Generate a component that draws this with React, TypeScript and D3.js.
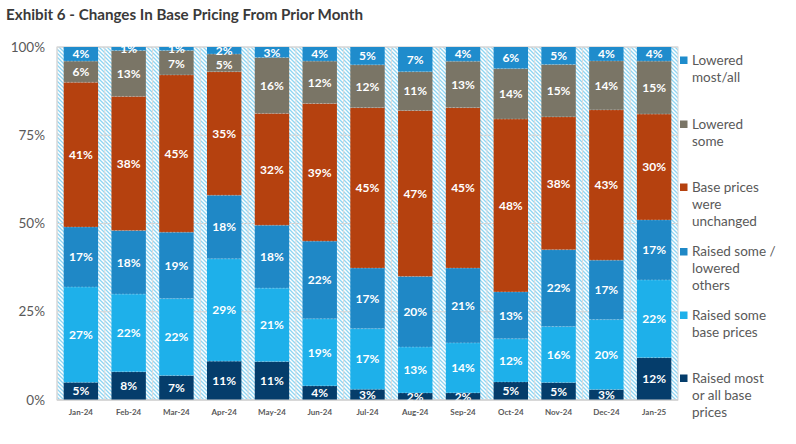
import React from "react";
import * as d3 from "d3";

const months = ["Jan-24","Feb-24","Mar-24","Apr-24","May-24","Jun-24","Jul-24","Aug-24","Sep-24","Oct-24","Nov-24","Dec-24","Jan-25"];
const raisedMost = [5,8,7,11,11,4,3,2,2,5,5,3,12];
const raisedSome = [27,22,22,29,21,19,17,13,14,12,16,20,22];
const raisedLowered = [17,18,19,18,18,22,17,20,21,13,22,17,17];
const unchanged = [41,38,45,35,32,39,45,47,45,48,38,43,30];
const loweredSome = [6,13,7,5,16,12,12,11,13,14,15,14,15];
const loweredMost = [4,1,1,2,3,4,5,7,4,6,5,4,4];
const yTicks = [0,25,50,75,100];

const seriesKeys = ["raisedMost","raisedSome","raisedLowered","unchanged","loweredSome","loweredMost"];
const seriesColors = ["#053d6b","#1eb0ea","#1f88c6","#b5410f","#7a7566","#1f8ccc"];
const legendLines: string[][] = [
  ["Raised most","or all base","prices"],
  ["Raised some","base prices"],
  ["Raised some /","lowered","others"],
  ["Base prices","were","unchanged"],
  ["Lowered","some"],
  ["Lowered","most/all"],
];
const legendY = [378, 315, 251.5, 187, 124, 60];

export default function App() {
  const W = 796, H = 444;
  const left = 57, right = 678, top = 47, bottom = 400;
  const table = months.map((m, i) => ({
    month: m,
    raisedMost: raisedMost[i], raisedSome: raisedSome[i], raisedLowered: raisedLowered[i],
    unchanged: unchanged[i], loweredSome: loweredSome[i], loweredMost: loweredMost[i],
  }));
  const stack = d3.stack<any>().keys(seriesKeys).offset(d3.stackOffsetExpand);
  const layers = stack(table);
  const x = d3.scaleBand<string>().domain(months).range([left, right]).paddingInner(0.28).paddingOuter(0.14);
  const y = d3.scaleLinear().domain([0, 1]).range([bottom, top]);
  const yPct = d3.scaleLinear().domain([0, 100]).range([bottom, top]);
  const step = x.step();
  const font = "Lato, 'Open Sans', sans-serif";
  const fs = 12;
  const gap = 14.5;

  // label positions per column, from top layer down, nudged apart when too close
  const labelPos: number[][] = layers.map(() => []);
  months.forEach((_, i) => {
    let prev = -Infinity;
    for (let li = layers.length - 1; li >= 0; li--) {
      const d = layers[li][i];
      let cy = (y(d[0]) + y(d[1])) / 2;
      if (cy - prev < gap) cy = Math.min(prev + gap, y(d[0]) - 3);
      labelPos[li][i] = cy;
      prev = cy;
    }
  });

  return (
    <div style={{ position: "absolute", left: 0, top: 0 }}>
      <svg width={W} height={H} style={{ display: "block", background: "#fff" }}>
        <defs>
          <pattern id="hatch" patternUnits="userSpaceOnUse" width={4} height={4}>
            <rect width={4} height={4} fill="#ffffff" />
            <path d="M-1,-1 L5,5 M-1,3 L1,5 M3,-1 L5,1" stroke="#8fd5f2" strokeWidth={1.3} />
          </pattern>
        </defs>
        <text x={6} y={20} fontFamily={font} fontWeight={700} fontSize={15.5} fill="#3a3a3a" textLength={357} lengthAdjust="spacingAndGlyphs">
          Exhibit 6 - Changes In Base Pricing From Prior Month
        </text>
        <rect x={left} y={top} width={right - left} height={bottom - top} fill="url(#hatch)" />
        {months.map((m, i) => (
          <line key={"v" + i} x1={left + step * i} x2={left + step * i} y1={top} y2={bottom} stroke="#dcdcdc" strokeWidth={1} />
        ))}
        {yTicks.map(t => (
          <g key={"t" + t}>
            <line x1={left} x2={right} y1={yPct(t)} y2={yPct(t)} stroke="#d6d6d6" strokeWidth={1} />
            <text x={45} y={yPct(t)} dy="0.35em" textAnchor="end" fontFamily={font} fontSize={13.5} fill="#595959">{t + "%"}</text>
          </g>
        ))}
        <rect x={left} y={top} width={right - left} height={bottom - top} fill="none" stroke="#d6d6d6" strokeWidth={1} />
        {layers.map((layer, li) => (
          <g key={"l" + li}>
            {layer.map((d, i) => {
              const bx = x(months[i])!;
              const y0 = y(d[0]), y1 = y(d[1]);
              return (
                <g key={i}>
                  <rect x={bx} y={y1} width={x.bandwidth()} height={y0 - y1} fill={seriesColors[li]} />
                  {li > 0 && <line x1={bx} x2={bx + x.bandwidth()} y1={y0} y2={y0} stroke="rgba(255,255,255,0.35)" strokeDasharray="2,1.5" strokeWidth={0.8} />}
                </g>
              );
            })}
          </g>
        ))}
        {layers.map((layer, li) => (
          <g key={"lab" + li}>
            {layer.map((d, i) => {
              const bx = x(months[i])! + x.bandwidth() / 2;
              const v = (d.data as any)[seriesKeys[li]];
              return (
                <text key={i} x={bx} y={labelPos[li][i]} dy="0.36em" textAnchor="middle" fontFamily={font} fontWeight={700} fontSize={fs} fill="#ffffff">{v + "%"}</text>
              );
            })}
          </g>
        ))}
        <line x1={left} x2={right} y1={bottom} y2={bottom} stroke="#cfcfcf" strokeWidth={1} />
        {months.map(m => (
          <text key={"x" + m} x={x(m)! + x.bandwidth() / 2} y={412} dy="0.35em" textAnchor="middle" fontFamily={font} fontWeight={700} fontSize={8} fill="#595959">{m}</text>
        ))}
        {legendLines.map((lines, li) => (
          <g key={"lg" + li}>
            <rect x={680} y={legendY[li] - 3.5} width={7.5} height={7.5} fill={seriesColors[li]} />
            {lines.map((ln, k) => (
              <text key={k} x={692} y={legendY[li] + k * 17} dy="0.35em" fontFamily={font} fontSize={13.5} fill="#595959">{ln}</text>
            ))}
          </g>
        ))}
      </svg>
    </div>
  );
}
